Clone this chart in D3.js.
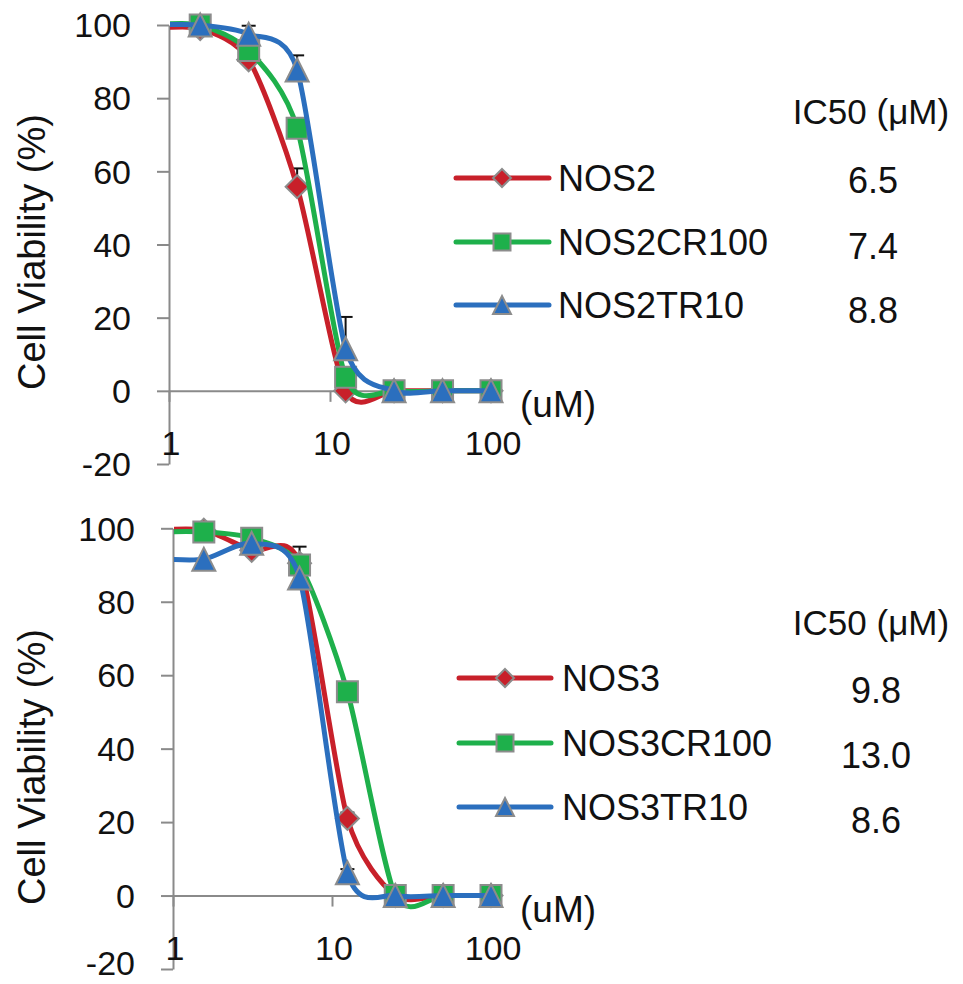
<!DOCTYPE html>
<html><head><meta charset="utf-8">
<script src="https://cdn.jsdelivr.net/npm/d3@7"></script>
<style>
body{margin:0;background:#fff;}
text{font-family:"Liberation Sans",Arial,sans-serif;fill:#111;}
</style>
</head><body>
<svg id="chart" width="963" height="984"></svg>
<script>
// ---------------- DATA ----------------
const concentrations = [0.78125, 1.5625, 3.125, 6.25, 12.5, 25, 50, 100];
const xTickValues = [1, 10, 100];
const xTickLabels = ["1", "10", "100"];
const yTickValues = [-20, 0, 20, 40, 60, 80, 100];
const yTitle = "Cell Viability (%)";
const xUnitLabel = "(uM)";
const ic50Header = "IC50 (μM)";

// top panel
const topNames = ["NOS2", "NOS2CR100", "NOS2TR10"];
const topNOS2      = [99, 99, 90.5, 55.8, 0, 0, 0, 0];
const topNOS2CR100 = [100, 100, 93, 71.8, 3.7, 0, 0, 0];
const topNOS2TR10  = [100, 100, 97.5, 87.7, 11.5, 0, 0, 0];
const topErrNOS2      = [0, 0, 0, 5, 0, 0, 0, 0];
const topErrNOS2CR100 = [0, 0, 0, 0, 0, 0, 0, 0];
const topErrNOS2TR10  = [0, 0, 2.3, 4, 8.7, 0, 0, 0];
const topIC50 = ["6.5", "7.4", "8.8"];

// bottom panel
const bottomNames = ["NOS3", "NOS3CR100", "NOS3TR10"];
const bottomNOS3      = [99.5, 99.5, 94, 90.5, 21, 0, 0, 0];
const bottomNOS3CR100 = [99, 99, 97.3, 90, 55.5, 0, 0, 0];
const bottomNOS3TR10  = [91.8, 91.6, 95.9, 86.5, 6.2, 0, 0, 0];
const bottomErrNOS3      = [0, 0, 0, 4.5, 1.6, 0, 0, 0];
const bottomErrNOS3CR100 = [0, 0, 0, 0, 0, 0, 0, 0];
const bottomErrNOS3TR10  = [0, 0, 0, 0, 1.0, 0, 0, 0];
const bottomIC50 = ["9.8", "13.0", "8.6"];

// ---------------- STYLE ----------------
const colors = ["#c8202a", "#1eb04b", "#2b6fbe"];
const shapes = ["diamond", "square", "triangle"];
const axisColor = "#8a8a8a";
const markerStroke = "#8c8c8c";

const svg = d3.select("#chart");

function markerPath(shape, s) {
  const h = s / 2;
  if (shape === "square") return `M${-h},${-h}H${h}V${h}H${-h}Z`;
  if (shape === "diamond") return `M0,${-h}L${h},0L0,${h}L${-h},0Z`;
  return `M0,${-h}L${h},${h}L${-h},${h}Z`;
}

function drawPanel(cfg) {
  const g = svg.append("g");
  const x = d3.scaleLog().domain([1, 100]).range([cfg.x0, cfg.x1]);
  const y = d3.scaleLinear().domain([-20, 100]).range([cfg.yBottom, cfg.yTop]);

  // y axis
  const yAxis = d3.axisLeft(y).tickValues(yTickValues).tickSize(12).tickSizeOuter(0).tickFormat("");
  const ya = g.append("g").attr("transform", `translate(${cfg.x0},0)`).call(yAxis);
  ya.select(".domain").attr("stroke", axisColor).attr("stroke-width", 2);
  ya.selectAll(".tick line").attr("stroke", axisColor).attr("stroke-width", 2);
  g.selectAll(".ylab").data(yTickValues).enter().append("text")
    .attr("x", cfg.x0 - 38).attr("y", d => Math.min(y(d), cfg.maxLabelY)).attr("dy", "0.36em")
    .attr("text-anchor", "end").attr("font-size", 34).text(d => d);

  // x axis at y=0
  const xAxis = d3.axisBottom(x).tickValues(xTickValues).tickSize(11).tickSizeOuter(0).tickFormat("");
  const xa = g.append("g").attr("transform", `translate(0,${y(0)})`).call(xAxis);
  xa.select(".domain").attr("stroke", axisColor).attr("stroke-width", 2);
  xa.selectAll(".tick line").attr("stroke", axisColor).attr("stroke-width", 2);
  g.selectAll(".xlab").data(xTickValues).enter().append("text")
    .attr("x", d => x(d) + 2).attr("y", cfg.xLabelY).attr("dy", "0.36em")
    .attr("text-anchor", "middle").attr("font-size", 34).text((d, i) => xTickLabels[i]);
  g.append("text").attr("x", 520).attr("y", y(0) + 13).attr("dy", "0.36em")
    .attr("font-size", 37).text(xUnitLabel);

  // y title
  g.append("text").attr("transform", `translate(${cfg.titleX},${cfg.titleY}) rotate(-90)`)
    .attr("text-anchor", "middle").attr("dy", "0.36em").attr("font-size", 38).text(yTitle);

  // clip
  const clipId = "clip" + cfg.id;
  svg.append("clipPath").attr("id", clipId).append("rect")
    .attr("x", cfg.x0 + 1).attr("y", cfg.yTop - 30).attr("width", 400).attr("height", cfg.yBottom - cfg.yTop + 60);

  const line = d3.line().x(d => x(d.c)).y(d => y(d.v)).curve(d3.curveCardinal.tension(0.25));

  cfg.series.forEach((vals, si) => {
    const pts = concentrations.map((c, i) => ({c, v: vals[i], e: cfg.errs[si][i]}));
    const vis = pts.filter(p => p.c >= 1);
    // error bars (plus direction)
    const eb = g.append("g").attr("stroke", "#111").attr("stroke-width", 2);
    vis.filter(p => p.e > 0).forEach(p => {
      eb.append("line").attr("x1", x(p.c)).attr("x2", x(p.c)).attr("y1", y(p.v)).attr("y2", y(p.v + p.e));
      eb.append("line").attr("x1", x(p.c) - 7).attr("x2", x(p.c) + 7).attr("y1", y(p.v + p.e)).attr("y2", y(p.v + p.e));
    });
    g.append("path").datum(pts).attr("clip-path", `url(#${clipId})`)
      .attr("d", line).attr("fill", "none").attr("stroke", colors[si])
      .attr("stroke-width", 5).attr("stroke-linecap", "round").attr("stroke-linejoin", "round");
    g.selectAll(null).data(vis).enter().append("path")
      .attr("transform", p => `translate(${x(p.c)},${y(p.v)})`)
      .attr("d", markerPath(shapes[si], si === 1 ? 21 : 23))
      .attr("fill", colors[si]).attr("stroke", markerStroke).attr("stroke-width", 2);
  });

  // legend
  const L = cfg.legend;
  cfg.names.forEach((name, i) => {
    const ly = L.rows[i];
    g.append("line").attr("x1", L.x1).attr("x2", L.x2).attr("y1", ly).attr("y2", ly)
      .attr("stroke", colors[i]).attr("stroke-width", 5).attr("stroke-linecap", "round");
    g.append("path").attr("transform", `translate(${L.mx},${ly})`)
      .attr("d", markerPath(shapes[i], i === 1 ? 17 : 18))
      .attr("fill", colors[i]).attr("stroke", markerStroke).attr("stroke-width", 2);
    g.append("text").attr("x", L.tx).attr("y", ly).attr("dy", "0.36em")
      .attr("font-size", 36).text(name);
    g.append("text").attr("x", L.vx).attr("y", L.vrows[i]).attr("dy", "0.36em")
      .attr("text-anchor", "middle").attr("font-size", 36).text(cfg.ic50[i]);
  });
  g.append("text").attr("x", L.hx).attr("y", L.hy).attr("dy", "0.36em")
    .attr("text-anchor", "middle").attr("font-size", 35).text(ic50Header);
}

drawPanel({
  id: "top", x0: 169, x1: 491, yTop: 25, yBottom: 464, xLabelY: 443, maxLabelY: 465,
  titleX: 31, titleY: 252,
  names: topNames, ic50: topIC50,
  series: [topNOS2, topNOS2CR100, topNOS2TR10],
  errs: [topErrNOS2, topErrNOS2CR100, topErrNOS2TR10],
  legend: {x1: 456, x2: 549, mx: 502, tx: 558, rows: [178, 242, 305],
           vx: 873, vrows: [180, 246, 310], hx: 871, hy: 111}
});
drawPanel({
  id: "bot", x0: 173, x1: 491, yTop: 528.3, yBottom: 969, xLabelY: 948, maxLabelY: 963,
  titleX: 31, titleY: 767,
  names: bottomNames, ic50: bottomIC50,
  series: [bottomNOS3, bottomNOS3CR100, bottomNOS3TR10],
  errs: [bottomErrNOS3, bottomErrNOS3CR100, bottomErrNOS3TR10],
  legend: {x1: 459, x2: 551, mx: 505, tx: 562, rows: [678, 743, 807],
           vx: 876, vrows: [690, 755, 820], hx: 871, hy: 622}
});
</script>
</body></html>
